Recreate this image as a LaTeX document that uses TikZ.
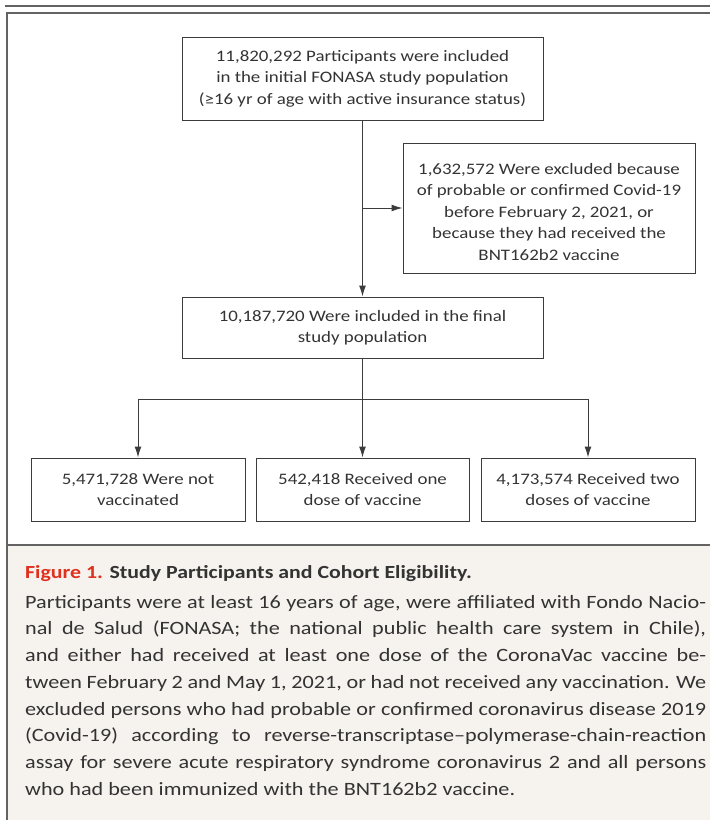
\documentclass[tikz,border=0pt]{standalone}
\usepackage{fontspec}
\setmainfont{Carlito}[FakeStretch=1.18]
\usetikzlibrary{positioning,arrows.meta}
\definecolor{linegray}{HTML}{3C3C3C}
\definecolor{textgray}{HTML}{333333}
\definecolor{capbg}{HTML}{F6F2EE}
\definecolor{nejmred}{HTML}{E0301E}
\tikzset{
  flowbox/.style={draw=linegray, line width=1pt, text=textgray, align=center,
    inner sep=0pt, font=\fontsize{16}{21.5}\selectfont},
  conn/.style={draw=linegray, line width=1pt},
  tip/.style={-{Latex[length=11pt,width=7pt]}},
}
\newcommand{\capline}[1]{\makebox[681pt][s]{#1}\\}
\begin{document}
\begin{tikzpicture}[x=1pt,y=-1pt]
		\useasboundingbox (0,0) rectangle (710,820);

		% frame and caption panel
		\fill[capbg] (7,545) rectangle (710,820);
		\draw[linegray!80, line width=1.5pt] (5,6) -- (710,6);
		\draw[linegray!80, line width=2pt] (710,13) -- (7,13) -- (7,820);
		\draw[linegray!80, line width=2pt] (7,545) -- (710,545);

		% boxes
		\node[flowbox, minimum width=361, minimum height=83] (initial) at (362.5,78.5)
			{11,820,292 Participants were included\\in the initial FONASA study population\\(≥16 yr of age with active insurance status)};
		\node[flowbox, minimum width=292, minimum height=130] (excluded) at (549,208)
			{\rule{0pt}{19pt}1,632,572 Were excluded because\\of probable or confirmed Covid-19\\before February 2, 2021, or\\because they had received the\\BNT162b2 vaccine};
		\node[flowbox, minimum width=361, minimum height=61] (final) at (362.5,327.5)
			{10,187,720 Were included in the final\\study population};
		\node[flowbox, minimum width=214, minimum height=63] (notvac) at (138,489.5)
			{5,471,728 Were not\\vaccinated};
		\node[flowbox, minimum width=213, minimum height=63] (onedose) at (362.5,489.5)
			{542,418 Received one\\dose of vaccine};
		\node[flowbox, minimum width=214, minimum height=63] (twodose) at (588,489.5)
			{4,173,574 Received two\\doses of vaccine};

		% connectors
		\coordinate (split) at (362.5,208);
		\coordinate (fork) at (362.5,399);
		\draw[conn, tip] (initial) -- (final);
		\draw[conn, tip] (split) -- (excluded.west);
		\draw[conn] (final) -- (fork);
		\draw[conn, tip] (fork) -- (onedose);
		\draw[conn, tip] (fork) -| (notvac);
		\draw[conn, tip] (fork) -| (twodose);

		% caption
		\node[anchor=base west, inner sep=0pt, font=\fontsize{18.5}{24}\selectfont\bfseries] (captitle) at (25,578)
			{\textcolor{nejmred}{Figure 1.} \textcolor{textgray}{Study Participants and Cohort Eligibility.}};
		\node[anchor=north west, inner sep=0pt, text=textgray, align=left,
			font=\fontsize{18.8}{26.7}\selectfont] (captext) at (25,595)
			{\capline{Participants were at least 16 years of age, were affiliated with Fondo Nacio-}%
			\capline{nal de Salud (FONASA; the national public health care system in Chile),}%
			\capline{and either had received at least one dose of the CoronaVac vaccine be-}%
			\capline{tween February 2 and May 1, 2021, or had not received any vaccination. We}%
			\capline{excluded persons who had probable or confirmed coronavirus disease 2019}%
			\capline{(Covid-19) according to reverse-transcriptase--polymerase-chain-reaction}%
			\capline{assay for severe acute respiratory syndrome coronavirus 2 and all persons}%
			who had been immunized with the BNT162b2 vaccine.};
\end{tikzpicture}
\end{document}
